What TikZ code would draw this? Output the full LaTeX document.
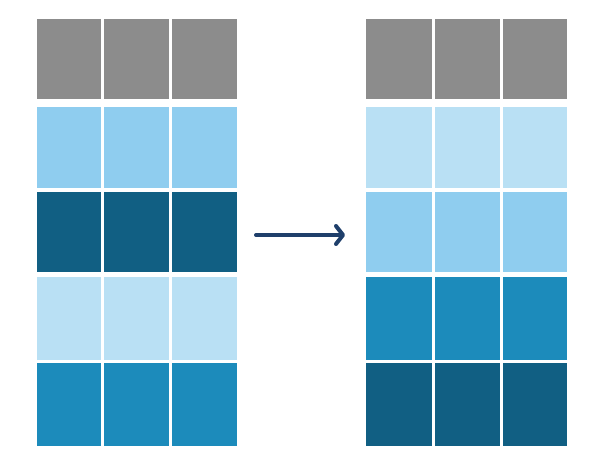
\documentclass[tikz,border=0pt]{standalone}
\usetikzlibrary{arrows.meta}
\definecolor{cgray}{HTML}{8C8C8C}
\definecolor{clight}{HTML}{B9E0F4}
\definecolor{cmedl}{HTML}{8FCDEF}
\definecolor{cmed}{HTML}{1C8BBB}
\definecolor{cdark}{HTML}{115F83}
\definecolor{carrow}{HTML}{1F3F6B}
\tikzset{
  cell/.style={inner sep=0pt, outer sep=0pt, draw=none, rectangle, anchor=north west},
  flow/.style={draw=carrow, line width=4pt, line cap=round, -{Straight Barb[length=7pt,width=18pt,line cap=round,line join=round]}}
}
\begin{document}
\begin{tikzpicture}[x=1pt,y=-1pt]
\useasboundingbox (0,0) rectangle (600,466);
% left grid
\foreach \r/\col/\ya/\yb in {1/cgray/19/99, 2/cmedl/107/188, 3/cdark/192/272, 4/clight/277/360, 5/cmed/363/446}{
  \foreach \c/\xa/\xb in {1/37/101, 2/104/169, 3/172/237}{
    \node[cell, fill=\col, minimum width={(\xb-\xa)*1pt}, minimum height={(\yb-\ya)*1pt}] (L-\r-\c) at (\xa,\ya) {};
  }
}
% right grid
\foreach \r/\col/\ya/\yb in {1/cgray/19/99, 2/clight/107/188, 3/cmedl/192/272, 4/cmed/277/360, 5/cdark/363/446}{
  \foreach \c/\xa/\xb in {1/366/432, 2/435/500, 3/503/567}{
    \node[cell, fill=\col, minimum width={(\xb-\xa)*1pt}, minimum height={(\yb-\ya)*1pt}] (R-\r-\c) at (\xa,\ya) {};
  }
}
\coordinate (a1) at (256,235);
\coordinate (a2) at (345,235);
\draw[flow] (a1) -- (a2);
\end{tikzpicture}
\end{document}
